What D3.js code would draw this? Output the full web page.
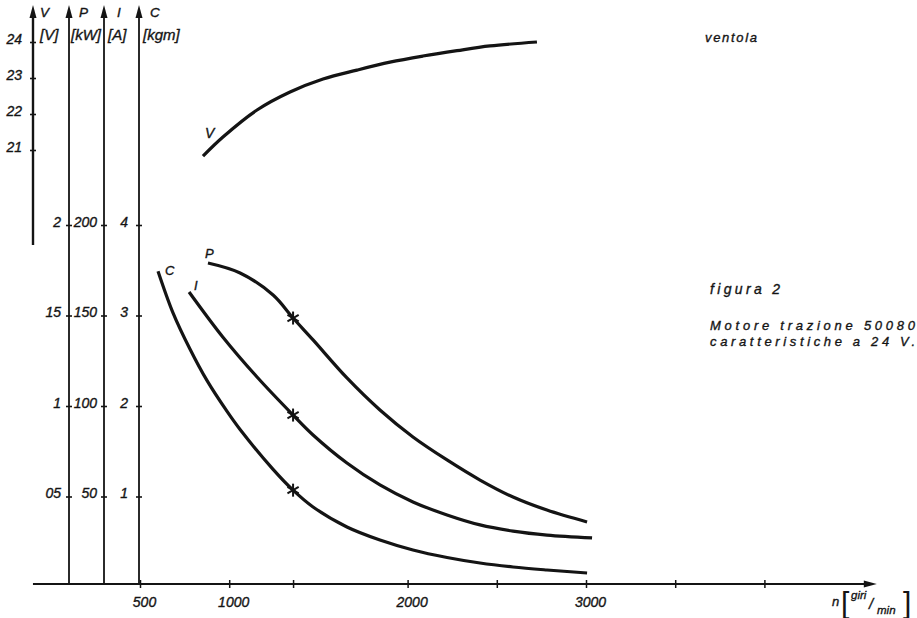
<!DOCTYPE html>
<html><head><meta charset="utf-8">
<script src="https://cdn.jsdelivr.net/npm/d3@7"></script>
<style>
body{margin:0;background:#fff}
svg{display:block}
text{font-family:"Liberation Sans",Arial,sans-serif;font-style:italic;fill:#141414}
</style>
</head><body>
<svg id="c" width="917" height="618"></svg>
<script>
// ---- data ----
const speedV  = [853, 965, 1156, 1341, 1526, 1716, 1901, 2086, 2277, 2462, 2725];
const voltage = [20.83, 21.36, 22.11, 22.61, 22.97, 23.22, 23.44, 23.61, 23.76, 23.89, 24.0];

const speedP = [881, 1061, 1246, 1358, 1470, 1660, 1845, 2030, 2221, 2406, 2591, 2781, 3006];
const power  = [1.79, 1.735, 1.613, 1.486, 1.365, 1.155, 0.978, 0.829, 0.702, 0.591, 0.497, 0.425, 0.359];

const speedI  = [775, 965, 1156, 1358, 1470, 1660, 1845, 2030, 2221, 2406, 2591, 2781, 3034];
const current = [163, 138, 116, 95, 84, 68.5, 56.4, 47, 39.8, 34.3, 30.9, 28.7, 27.1];

const speedC = [601, 685, 780, 876, 988, 1061, 1246, 1358, 1470, 1660, 1845, 2030, 2221, 2406, 2591, 2781, 3006];
const torque = [3.49, 3.03, 2.63, 2.28, 1.94, 1.74, 1.30, 1.07, 0.884, 0.663, 0.519, 0.409, 0.326, 0.265, 0.221, 0.188, 0.155];

const ratedSpeed = 1358;
const ratedP = 1.486, ratedI = 95, ratedC = 1.07;

const nTicks  = [500, 1000, 1358, 2000, 2500, 3000, 3500, 4000];
const nLabels = ["500", "1000", "", "2000", "", "3000", "", ""];
const vTicks  = [21, 22, 23, 24];
const vLabels = ["21", "22", "23", "24"];
const pTicks  = [0.5, 1, 1.5, 2];
const pLabels = ["05", "1", "15", "2"];
const iTicks  = [50, 100, 150, 200];
const iLabels = ["50", "100", "150", "200"];
const cTicks  = [1, 2, 3, 4];
const cLabels = ["1", "2", "3", "4"];

// ---- scales ----
const x  = d3.scaleLinear().domain([500, 3000]).range([140, 586]);
const yV = d3.scaleLinear().domain([21, 24]).range([150, 42]);
const yP = d3.scaleLinear().domain([0, 2]).range([587, 225]);
const yI = d3.scaleLinear().domain([0, 200]).range([587, 225]);
const yC = d3.scaleLinear().domain([0, 4]).range([587, 225]);

const svg = d3.select("#c");
const ink = "#141414";
const baseY = 584;
const axTop = 5;
const FONT = '"Liberation Sans",Arial,sans-serif';

function styleText(sel, size) {
  sel.style("font-family", FONT).style("font-style", "italic").style("font-size", size + "px")
    .attr("fill", ink).attr("stroke", ink).attr("stroke-width", 0.35);
}

// ---- vertical axes ----
function vAxis(xpos, scale, ticks, labels, pad, bottom, name, unit, nameDx, unitX, sw) {
  const g = svg.append("g").attr("transform", `translate(${xpos},0)`);
  g.append("line").attr("x1", 0).attr("x2", 0).attr("y1", axTop + 8).attr("y2", bottom)
    .attr("stroke", ink).attr("stroke-width", sw);
  g.append("path").attr("d", `M0,${axTop} L-3.5,${axTop + 13} L3.5,${axTop + 13} Z`).attr("fill", ink);
  const ax = d3.axisLeft(scale).tickValues(ticks).tickFormat((d, i) => labels[i])
    .tickSize(3).tickPadding(pad);
  const ag = g.append("g").call(ax);
  ag.select(".domain").remove();
  ag.attr("font-family", null).attr("font-size", null);
  ag.selectAll(".tick line").attr("x1", -3).attr("x2", 3).attr("stroke", ink).attr("stroke-width", 1.6);
  styleText(ag.selectAll(".tick text").attr("dy", "0.1em"), 14);
  styleText(g.append("text").attr("x", nameDx).attr("y", 17).text(name), 13.5);
  styleText(g.append("text").attr("x", unitX).attr("y", 40).text(unit), 15);
}
vAxis(33, yV, vTicks, vLabels, 8, 245, "V", "[V]", 7, 7, 2.4);
vAxis(69, yP, pTicks, pLabels, 5, baseY, "P", "[kW]", 10, 2, 1.8);
vAxis(104, yI, iTicks, iLabels, 4, baseY, "I", "[A]", 13, 4, 1.8);
vAxis(139, yC, cTicks, cLabels, 8, baseY, "C", "[kgm]", 11, 4, 1.8);

// ---- horizontal axis ----
const xStart = x(-100), xEnd = x(4630);
svg.append("line").attr("x1", xStart).attr("x2", xEnd - 6).attr("y1", baseY).attr("y2", baseY)
  .attr("stroke", ink).attr("stroke-width", 1.8);
svg.append("path").attr("d", `M${xEnd},${baseY} L${xEnd - 13},${baseY - 3.5} L${xEnd - 13},${baseY + 3.5} Z`).attr("fill", ink);
const xg = svg.append("g").attr("transform", `translate(0,${baseY})`)
  .call(d3.axisBottom(x).tickValues(nTicks).tickFormat((d, i) => nLabels[i]).tickSize(4).tickPadding(9));
xg.select(".domain").remove();
xg.attr("font-family", null).attr("font-size", null);
xg.selectAll(".tick line").attr("y1", -4).attr("y2", 4).attr("stroke", ink).attr("stroke-width", 1.5);
styleText(xg.selectAll(".tick text").attr("dx", 4), 14);

// x axis title: n [giri/min]
styleText(svg.append("text").attr("x", 832).attr("y", 606).text("n"), 13);
svg.append("text").attr("x", 841).attr("y", 613).style("font-size", "30px").style("font-style", "normal")
  .style("font-weight", "300").text("[");
styleText(svg.append("text").attr("x", 851).attr("y", 599).text("giri"), 11.5);
styleText(svg.append("text").attr("x", 869).attr("y", 609).text("/"), 15);
styleText(svg.append("text").attr("x", 877).attr("y", 614).text("min"), 11.5);
svg.append("text").attr("x", 903).attr("y", 613).style("font-size", "30px").style("font-style", "normal")
  .style("font-weight", "300").text("]");

// ---- curves ----
function curve(xs, ys, yScale) {
  const pts = xs.map((d, i) => [x(d), yScale(ys[i])]);
  svg.append("path").attr("d", d3.line().curve(d3.curveCatmullRom.alpha(0.5))(pts))
    .attr("fill", "none").attr("stroke", ink).attr("stroke-width", 3.2).attr("stroke-linecap", "butt");
}
curve(speedV, voltage, yV);
curve(speedP, power, yP);
curve(speedI, current, yI);
curve(speedC, torque, yC);

// rated-point stars
function star(cx, cy) {
  const r = 6.5;
  [0, 60, 120].forEach(a => {
    const t = (a + 90) * Math.PI / 180;
    svg.append("line").attr("x1", cx - r * Math.cos(t)).attr("y1", cy - r * Math.sin(t))
      .attr("x2", cx + r * Math.cos(t)).attr("y2", cy + r * Math.sin(t))
      .attr("stroke", ink).attr("stroke-width", 2);
  });
}
star(x(ratedSpeed), yP(ratedP));
star(x(ratedSpeed), yI(ratedI));
star(x(ratedSpeed), yC(ratedC));

// curve labels
styleText(svg.append("text").attr("x", x(speedV[0]) + 2).attr("y", yV(voltage[0]) - 18).text("V"), 14);
styleText(svg.append("text").attr("x", x(speedP[0]) - 3).attr("y", yP(power[0]) - 5).text("P"), 13);
styleText(svg.append("text").attr("x", x(speedI[0]) + 5).attr("y", yI(current[0]) - 2).text("I"), 13);
styleText(svg.append("text").attr("x", x(speedC[0]) + 7).attr("y", yC(torque[0]) + 4).text("C"), 13);

// ---- notes ----
styleText(svg.append("text").attr("x", 705).attr("y", 42).attr("textLength", 52).text("ventola"), 13);
styleText(svg.append("text").attr("x", 710).attr("y", 294).attr("textLength", 70).text("figura 2"), 14);
styleText(svg.append("text").attr("x", 710).attr("y", 330).attr("textLength", 205).text("Motore trazione 50080"), 13);
styleText(svg.append("text").attr("x", 710).attr("y", 346).attr("textLength", 205).text("caratteristiche a 24 V."), 13);
</script>
</body></html>
